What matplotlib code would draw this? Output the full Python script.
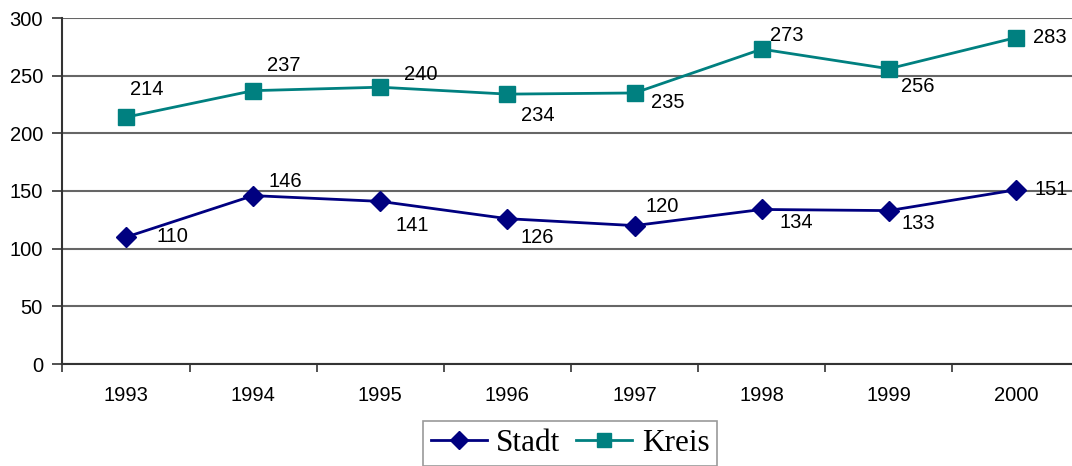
import matplotlib
matplotlib.use("Agg")
import matplotlib.pyplot as plt
from matplotlib.lines import Line2D

years = ["1993", "1994", "1995", "1996", "1997", "1998", "1999", "2000"]
stadt = [110, 146, 141, 126, 120, 134, 133, 151]
kreis = [214, 237, 240, 234, 235, 273, 256, 283]

# label offsets (pixels) – styling only
kreis_off = [(21, 28), (31, 25), (40, 13), (30, -21), (33, -10), (25, 14), (29, -18), (34, 0)]
stadt_off = [(46, 1), (32, 14), (32, -24), (30, -19), (28, 19), (35, -13), (29, -13), (35, 0)]

W, H = 1072, 466
fig = plt.figure(figsize=(W / 100, H / 100), dpi=100)
left, right, top, bottom = 62.4, 1079.6, 18, 364
ax = fig.add_axes([left / W, 1 - bottom / H, (right - left) / W, (bottom - top) / H])

x = list(range(len(years)))
ax.plot(x, kreis, color="#008080", lw=2, marker="s", ms=11.5, zorder=3, clip_on=False)
ax.plot(x, stadt, color="#000080", lw=2, marker="D", ms=10, zorder=3, clip_on=False)

fs = 14.5
for xi, v, (dx, dy) in zip(x, kreis, kreis_off):
    ax.annotate(str(v), (xi, v), xytext=(dx, dy), textcoords="offset pixels",
                ha="center", va="center", fontsize=fs, family="Liberation Sans")
for xi, v, (dx, dy) in zip(x, stadt, stadt_off):
    ax.annotate(str(v), (xi, v), xytext=(dx, dy), textcoords="offset pixels",
                ha="center", va="center", fontsize=fs, family="Liberation Sans")

ax.set_xlim(-0.5, len(years) - 0.5)
ax.set_ylim(0, 300)
ax.set_yticks(range(0, 301, 50))
ax.set_yticklabels([str(t) for t in range(0, 301, 50)], family="Liberation Sans", fontsize=fs)
ax.yaxis.grid(True, color="#666666", lw=1.5)
ax.set_axisbelow(True)

ax.set_xticks([i - 0.5 for i in range(len(years))])
ax.set_xticklabels([])
ax.set_xticks(x, minor=True)
ax.set_xticklabels(years, minor=True, family="Liberation Sans", fontsize=fs)
ax.tick_params(axis="x", which="major", length=6, width=1.2, color="#333333", direction="out")
ax.tick_params(axis="x", which="minor", length=0, pad=16)
ax.tick_params(axis="y", length=7, width=1.2, color="#333333", pad=7)

for s in ["top", "right"]:
    ax.spines[s].set_visible(False)
ax.spines["left"].set_color("#333333")
ax.spines["left"].set_linewidth(1.5)
ax.spines["bottom"].set_color("#333333")
ax.spines["bottom"].set_linewidth(1.5)

handles = [
    Line2D([], [], color="#000080", lw=2, marker="D", ms=9),
    Line2D([], [], color="#008080", lw=2, marker="s", ms=10),
]
leg = fig.legend(handles, ["Stadt", "Kreis"], loc="upper center",
                 bbox_to_anchor=(570 / W, 1 - 421 / H), ncol=2,
                 prop={"family": "Liberation Serif", "size": 22.5},
                 frameon=True, fancybox=False, handlelength=1.8,
                 handletextpad=0.3, columnspacing=0.5, borderpad=0.25,
                 borderaxespad=0)
leg.get_frame().set_edgecolor("#808080")
leg.get_frame().set_linewidth(1.2)

fig.savefig("out.png", dpi=100)
